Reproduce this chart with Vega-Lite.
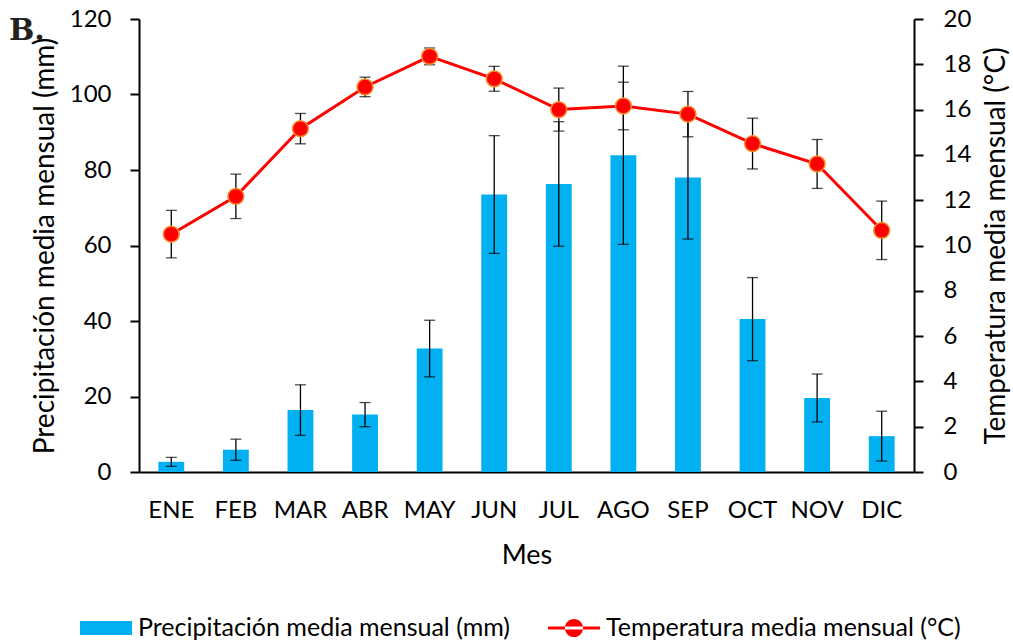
{
  "$schema": "https://vega.github.io/schema/vega-lite/v6.json",
  "width": 775,
  "height": 453,
  "autosize": "none",
  "padding": {"left": 139, "top": 19, "right": 99, "bottom": 172},
  "title": {"text": "B.", "anchor": "start", "frame": "group", "font": "DejaVu Serif", "fontSize": 30, "fontWeight": "bold", "color": "#222222", "dx": -130, "offset": -63, "baseline": "alphabetic"},
  "data": {
    "values": [
      {"mes": "ENE", "precip": 2.7, "precip_err": 1.2, "temp": 10.5, "temp_err": 1.05},
      {"mes": "FEB", "precip": 5.9, "precip_err": 2.8, "temp": 12.17, "temp_err": 0.98},
      {"mes": "MAR", "precip": 16.4, "precip_err": 6.7, "temp": 15.16, "temp_err": 0.67},
      {"mes": "ABR", "precip": 15.2, "precip_err": 3.2, "temp": 17.0, "temp_err": 0.43},
      {"mes": "MAY", "precip": 32.7, "precip_err": 7.5, "temp": 18.35, "temp_err": 0.37},
      {"mes": "JUN", "precip": 73.5, "precip_err": 15.6, "temp": 17.36, "temp_err": 0.55},
      {"mes": "JUL", "precip": 76.3, "precip_err": 16.5, "temp": 16.0, "temp_err": 0.95},
      {"mes": "AGO", "precip": 83.9, "precip_err": 23.6, "temp": 16.16, "temp_err": 1.05},
      {"mes": "SEP", "precip": 78.0, "precip_err": 16.3, "temp": 15.8, "temp_err": 1.0},
      {"mes": "OCT", "precip": 40.5, "precip_err": 11.0, "temp": 14.5, "temp_err": 1.12},
      {"mes": "NOV", "precip": 19.6, "precip_err": 6.35, "temp": 13.6, "temp_err": 1.08},
      {"mes": "DIC", "precip": 9.5, "precip_err": 6.6, "temp": 10.67, "temp_err": 1.29}
    ]
  },
  "encoding": {
    "x": {
      "field": "mes", "type": "nominal", "sort": null, "title": "Mes",
      "scale": {"paddingInner": 0.6, "paddingOuter": 0.3},
      "axis": {"labelAngle": 0, "ticks": false, "domainColor": "black", "domainWidth": 2, "labelFontSize": 24, "labelColor": "black", "labelPadding": 26, "titleFontSize": 27, "titleFontWeight": "normal", "titleColor": "black", "titlePadding": 20, "grid": false}
    }
  },
  "layer": [
    {
      "layer": [
        {
          "mark": {"type": "bar"},
          "encoding": {
            "y": {
              "field": "precip", "type": "quantitative", "title": "Precipitación media mensual (mm)",
              "scale": {"domain": [0, 120], "nice": false},
              "axis": {"orient": "left", "values": [0, 20, 40, 60, 80, 100, 120], "grid": false, "domainColor": "black", "domainWidth": 2, "tickColor": "black", "tickWidth": 2, "tickSize": 9, "labelFontSize": 24, "labelColor": "black", "labelPadding": 19, "titleFontSize": 28, "titleFontWeight": "normal", "titleColor": "black", "titlePadding": 10}
            },
            "color": {
              "datum": "Precipitación media mensual (mm)", "type": "nominal",
              "scale": {"domain": ["Precipitación media mensual (mm)", "Temperatura media mensual (°C)"], "range": ["#00B0F0", "#FF0000"]},
              "legend": {
                "orient": "none", "legendX": -59, "legendY": 583, "direction": "horizontal", "columns": 2,
                "title": null, "symbolSize": 2704, "symbolStrokeWidth": 0, "labelFontSize": 25, "labelColor": "black",
                "labelOffset": 6, "columnPadding": 38, "padding": 0, "labelLimit": 600,
                "encode": {
                  "symbols": {
                    "update": {
                      "shape": {"signal": "datum.value === 'Precipitación media mensual (mm)' ? 'M-1,-0.27H1V0.27H-1Z' : 'M-1,-0.06H1V0.06H-1Z M-0.35,0A0.35,0.35 0 1,0 0.35,0A0.35,0.35 0 1,0 -0.35,0Z'"},
                      "fill": {"signal": "datum.value === 'Precipitación media mensual (mm)' ? '#00B0F0' : '#FF0000'"},
                      "size": {"value": 2704},
                      "strokeWidth": {"value": 0},
                      "opacity": {"value": 1}
                    }
                  }
                }
              }
            }
          }
        },
        {
          "mark": {"type": "errorbar", "color": "black", "ticks": {"size": 11, "thickness": 1.3, "color": "black"}, "rule": {"strokeWidth": 1.3, "color": "black"}},
          "encoding": {
            "y": {"field": "precip", "type": "quantitative", "title": "Precipitación media mensual (mm)"},
            "yError": {"field": "precip_err"}
          }
        }
      ]
    },
    {
      "layer": [
        {
          "mark": {"type": "errorbar", "color": "black", "ticks": {"size": 11, "thickness": 1.3, "color": "black"}, "rule": {"strokeWidth": 1.3, "color": "black"}},
          "encoding": {
            "y": {
              "field": "temp", "type": "quantitative", "title": "Temperatura media mensual (°C)",
              "scale": {"domain": [0, 20], "nice": false},
              "axis": {"orient": "right", "values": [0, 2, 4, 6, 8, 10, 12, 14, 16, 18, 20], "grid": false, "domainColor": "black", "domainWidth": 2, "tickColor": "black", "tickWidth": 2, "tickSize": 9, "labelFontSize": 24, "labelColor": "black", "labelPadding": 20, "titleFontSize": 28, "titleFontWeight": "normal", "titleColor": "black", "titlePadding": 40, "titleAngle": 270}
            },
            "yError": {"field": "temp_err"}
          }
        },
        {
          "mark": {"type": "line", "strokeWidth": 3},
          "encoding": {
            "y": {"field": "temp", "type": "quantitative", "title": "Temperatura media mensual (°C)"},
            "color": {"datum": "Temperatura media mensual (°C)", "type": "nominal"}
          }
        },
        {
          "mark": {"type": "point", "filled": true, "fill": "#FF0000", "stroke": "#F28C28", "strokeWidth": 1.5, "size": 250, "opacity": 1},
          "encoding": {
            "y": {"field": "temp", "type": "quantitative", "title": "Temperatura media mensual (°C)"}
          }
        }
      ]
    }
  ],
  "resolve": {"scale": {"y": "independent"}},
  "config": {
    "view": {"stroke": null},
    "font": "Lato",
    "axis": {"labelFont": "Lato", "titleFont": "Lato"},
    "legend": {"labelFont": "Lato"}
  }
}
